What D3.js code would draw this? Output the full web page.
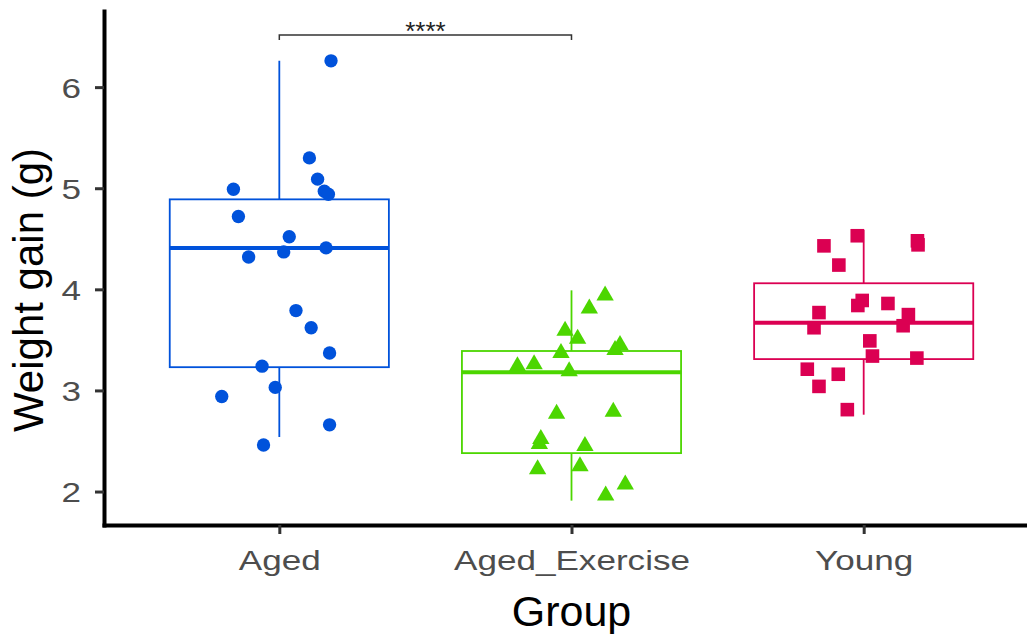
<!DOCTYPE html>
<html>
<head>
<meta charset="utf-8">
<script src="https://cdn.jsdelivr.net/npm/d3@7"></script>
<style>
  body { margin: 0; background: #fff; }
  text { font-family: "Liberation Sans", Arial, sans-serif; }
</style>
</head>
<body>
<script>
// groups and colours
var groups = ["Aged", "Aged_Exercise", "Young"],
    colors = ["#0052DB", "#4CD600", "#DB0052"],
    yTicks = [2, 3, 4, 5, 6];

// box stats: whisker low, q1, median, q3, whisker high
var boxLow  = [2.54, 1.91, 2.76],
    boxQ1   = [3.23, 2.38, 3.31],
    boxMed  = [4.41, 3.18, 3.67],
    boxQ3   = [4.89, 3.39, 4.06],
    boxHigh = [6.26, 3.99, 4.59];

// jittered points: value and horizontal offset (in group units)
var agedVal = [6.26, 5.30, 5.09, 4.97, 4.94, 4.99, 4.72, 4.52, 4.32, 4.37,
               4.41, 3.79, 3.62, 3.37, 3.24, 3.03, 2.94, 2.66, 2.46],
    agedJit = [0.177, 0.103, 0.131, 0.154, 0.168, -0.157, -0.140, 0.034, -0.105, 0.015,
               0.160, 0.057, 0.109, 0.172, -0.059, -0.014, -0.197, 0.172, -0.054];

var exVal = [3.94, 3.81, 3.59, 3.51, 3.45, 3.40, 3.37, 3.24, 3.26, 3.19,
             2.77, 2.79, 2.52, 2.47, 2.45, 2.22, 2.25, 2.07, 1.96],
    exJit = [0.115, 0.061, -0.022, 0.021, 0.166, 0.149, -0.036, -0.185, -0.128, -0.008,
             -0.051, 0.143, -0.105, -0.110, 0.046, -0.116, 0.029, 0.184, 0.117];

var youngVal = [4.53, 4.43, 4.48, 4.44, 4.24, 3.89, 3.84, 3.86, 3.77, 3.75,
                3.62, 3.64, 3.49, 3.34, 3.32, 3.21, 3.16, 3.04, 2.81],
    youngJit = [-0.022, -0.136, 0.184, 0.186, -0.085, -0.005, -0.020, 0.083, -0.153, 0.153,
                -0.170, 0.135, 0.021, 0.030, 0.182, -0.193, -0.087, -0.153, -0.056];

// significance bracket between Aged and Aged_Exercise
var sigFrom = "Aged", sigTo = "Aged_Exercise", sigY = 6.515, sigTip = 0.05, sigLabel = "****";

(function() {

  var width = 1027, height = 634,
      left = 104, bottom = 525, top = 11,
      step, x, y, svg;

  svg = d3.select("body").append("svg")
          .attr("width", width)
          .attr("height", height);

  x = d3.scalePoint()
        .domain(groups)
        .range([left, left + 935])
        .padding(0.6);
  step = x.step();

  y = d3.scaleLinear()
        .domain([1.669, 6.753])
        .range([bottom, top]);

  var pts = [agedVal, exVal, youngVal].map(function(vals, gi) {
    var jit = [agedJit, exJit, youngJit][gi];
    return vals.map(function(v, i) { return { g: gi, v: v, j: jit[i] }; });
  });

  /* boxes */
  var boxW = step * 0.75;
  var box = svg.append("g").selectAll("g")
    .data(groups)
    .enter().append("g")
      .attr("stroke", function(d, i) { return colors[i]; });

  box.append("line")
    .attr("x1", function(d) { return x(d); })
    .attr("x2", function(d) { return x(d); })
    .attr("y1", function(d, i) { return y(boxHigh[i]); })
    .attr("y2", function(d, i) { return y(boxLow[i]); })
    .attr("stroke-width", 1.8);

  box.append("rect")
    .attr("x", function(d) { return x(d) - boxW / 2; })
    .attr("width", boxW)
    .attr("y", function(d, i) { return y(boxQ3[i]); })
    .attr("height", function(d, i) { return y(boxQ1[i]) - y(boxQ3[i]); })
    .attr("fill", "#fff")
    .attr("stroke-width", 1.8);

  box.append("line")
    .attr("x1", function(d) { return x(d) - boxW / 2; })
    .attr("x2", function(d) { return x(d) + boxW / 2; })
    .attr("y1", function(d, i) { return y(boxMed[i]); })
    .attr("y2", function(d, i) { return y(boxMed[i]); })
    .attr("stroke-width", 4);

  /* points */
  var shapes = [d3.symbolCircle, d3.symbolTriangle, d3.symbolSquare],
      sizes  = [140, 130, 185];

  svg.append("g").selectAll("path")
    .data(d3.merge(pts))
    .enter().append("path")
      .attr("d", function(d) { return d3.symbol(shapes[d.g], sizes[d.g])(); })
      .attr("transform", function(d) {
        return "translate(" + (x(groups[d.g]) + d.j * step) + "," + y(d.v) + ")";
      })
      .attr("fill", function(d) { return colors[d.g]; });

  /* axes */
  var ax = svg.append("g")
    .attr("transform", "translate(" + left + ",0)")
    .call(d3.axisLeft(y).tickValues(yTicks).tickFormat(d3.format("d"))
            .tickSize(9).tickSizeOuter(0).tickPadding(0));

  var bx = svg.append("g")
    .attr("transform", "translate(0," + bottom + ")")
    .call(d3.axisBottom(x).tickSize(9).tickSizeOuter(0).tickPadding(0));

  [ax, bx].forEach(function(a) {
    a.select(".domain").attr("stroke", "#000").attr("stroke-width", 4)
      .attr("stroke-linecap", "square");
    a.selectAll(".tick line").attr("stroke", "#333").attr("stroke-width", 3);
    a.selectAll(".tick text").attr("fill", "#4D4D4D").attr("font-size", 27);
  });

  ax.selectAll(".tick text")
    .attr("x", null).attr("dy", null)
    .attr("text-anchor", "end")
    .attr("transform", "translate(-23,10) scale(1.3,1)");

  bx.selectAll(".tick text")
    .attr("y", null).attr("dy", null)
    .attr("transform", "translate(0,45) scale(1.3,1)");

  /* titles */
  svg.append("text")
    .attr("x", x("Aged_Exercise"))
    .attr("y", 626)
    .attr("text-anchor", "middle")
    .attr("font-size", 43)
    .text("Group");

  svg.append("text")
    .attr("transform", "translate(43,290) rotate(-90)")
    .attr("text-anchor", "middle")
    .attr("font-size", 42)
    .text("Weight gain (g)");

  /* significance bracket */
  var x1 = x(sigFrom), x2 = x(sigTo);
  svg.append("path")
    .attr("d", "M" + x1 + "," + y(sigY - sigTip) + "V" + y(sigY) + "H" + x2 + "V" + y(sigY - sigTip))
    .attr("fill", "none")
    .attr("stroke", "#333")
    .attr("stroke-width", 1.5);

  svg.append("text")
    .attr("x", (x1 + x2) / 2)
    .attr("y", y(sigY) + 5)
    .attr("text-anchor", "middle")
    .attr("font-size", 26)
    .attr("fill", "#222")
    .text(sigLabel);

}());
</script>
</body>
</html>
